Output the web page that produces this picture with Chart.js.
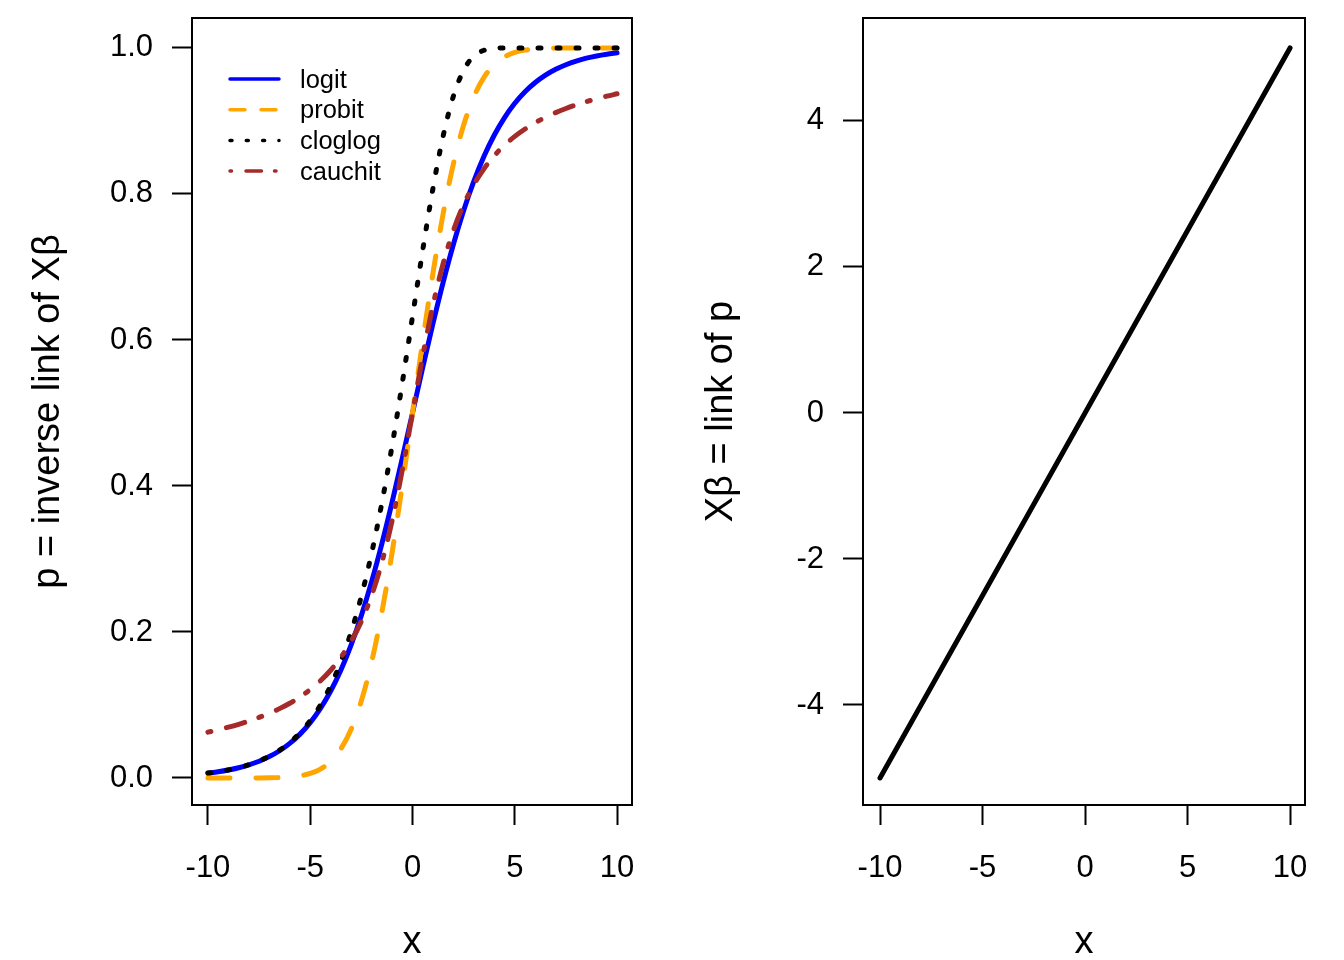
<!DOCTYPE html>
<html><head><meta charset="utf-8">
<script src="https://cdn.jsdelivr.net/npm/chart.js@4/dist/chart.umd.min.js"></script>
<style>
html,body{margin:0;padding:0;background:#fff;}
#wrap{position:relative;width:1344px;height:960px;background:#fff;}
canvas{position:absolute;top:0;}
</style></head><body>
<div id="wrap">
<canvas id="c1" width="672" height="960" style="left:0px"></canvas>
<canvas id="c2" width="672" height="960" style="left:672px"></canvas>
</div>
<script>
// ---- data ----
const xValues = [-10,-9.5,-9,-8.5,-8,-7.5,-7,-6.5,-6,-5.5,-5,-4.5,-4,-3.5,-3,-2.5,-2,-1.5,-1,-0.5,0,0.5,1,1.5,2,2.5,3,3.5,4,4.5,5,5.5,6,6.5,7,7.5,8,8.5,9,9.5,10];
const logitP = [0.00669,0.00858,0.01099,0.01406,0.01799,0.02298,0.02931,0.03734,0.04743,0.06008,0.07586,0.09535,0.11920,0.14805,0.18243,0.22270,0.26894,0.32082,0.37754,0.43782,0.5,0.56218,0.62246,0.67918,0.73106,0.77730,0.81757,0.85195,0.88080,0.90465,0.92414,0.93992,0.95257,0.96266,0.97069,0.97702,0.98201,0.98594,0.98901,0.99142,0.99331];
const probitP = [0.0000003,0.000001,0.0000034,0.0000107,0.0000317,0.0000884,0.000233,0.000577,0.00135,0.00298,0.00621,0.01222,0.02275,0.04006,0.06681,0.10565,0.15866,0.22663,0.30854,0.40129,0.5,0.59871,0.69146,0.77337,0.84134,0.89435,0.93319,0.95994,0.97725,0.98778,0.99379,0.99702,0.99865,0.99942,0.99977,0.99991,0.99997,0.99999,1.0,1.0,1.0];
const cloglogP = [0.00672,0.00862,0.01105,0.01416,0.01815,0.02324,0.02975,0.03803,0.04857,0.06193,0.07881,0.10004,0.12658,0.15951,0.19999,0.24914,0.30780,0.37646,0.45476,0.54105,0.63212,0.72304,0.80770,0.87961,0.93401,0.96952,0.98869,0.99683,0.99938,0.99992,0.999995,1,1,1,1,1,1,1,1,1,1];
const cauchitP = [0.06283,0.06605,0.06960,0.07356,0.07798,0.08295,0.08859,0.09502,0.10242,0.11102,0.12112,0.13312,0.14758,0.16525,0.18717,0.21478,0.25,0.29517,0.35242,0.42202,0.5,0.57798,0.64758,0.70483,0.75,0.78522,0.81283,0.83475,0.85242,0.86688,0.87888,0.88898,0.89758,0.90498,0.91141,0.91705,0.92202,0.92644,0.93040,0.93395,0.93717];
const seriesNames = ['logit','probit','cloglog','cauchit'];
const lineX = [-10,-5,0,5,10];
const lineEta = [-5,-2.5,0,2.5,5];
const xTicks = [-10,-5,0,5,10];
const pTicks = [0,0.2,0.4,0.6,0.8,1.0];
const etaTicks = [-4,-2,0,2,4];

// ---- styles ----
const FONT = '"Liberation Sans", Arial, Helvetica, sans-serif';
Chart.defaults.font.family = FONT;
Chart.defaults.font.size = 31;
Chart.defaults.color = '#000';

const seriesStyle = [
  {color:'#0000FF', dash:[], legendDash:[]},
  {color:'#FFA500', dash:[22,26], legendDash:[15,16]},
  {color:'#000000', dash:[3,16], legendDash:[2,14.3]},
  {color:'#A52A2A', dash:[3,16,19,15], legendDash:[1.5,14.5,15.5,13]}
];

const boxPlugin = {
  id:'rbox',
  afterDraw(chart){
    const a = chart.chartArea, ctx = chart.ctx;
    ctx.save();
    ctx.strokeStyle = '#000'; ctx.lineWidth = 2;
    ctx.strokeRect(a.left, a.top, a.right - a.left, a.bottom - a.top);
    ctx.restore();
  }
};

const legendPlugin = {
  id:'rlegend',
  afterDraw(chart, args, o){
    const ctx = chart.ctx;
    ctx.save();
    ctx.font = '25.5px ' + FONT;
    ctx.textBaseline = 'middle';
    ctx.textAlign = 'left';
    seriesNames.forEach((name, i) => {
      const y = o.y0 + i * o.dy;
      const st = seriesStyle[i];
      ctx.beginPath();
      ctx.strokeStyle = st.color;
      ctx.lineWidth = 3.5;
      ctx.lineCap = 'round';
      ctx.setLineDash(st.legendDash);
      ctx.moveTo(o.x0, y); ctx.lineTo(o.x1, y);
      ctx.stroke();
      ctx.setLineDash([]);
      ctx.fillStyle = '#000';
      ctx.fillText(name, o.tx, y + 1.5);
    });
    ctx.restore();
  }
};

function axisCfg(min, max, ticks, fmt, isX, size, title, titlePad){
  return {
    type:'linear', min:min, max:max,
    afterBuildTicks: s => { s.ticks = ticks.map(v => ({value:v})); },
    afterFit: s => {
      if (isX) { s.height = size; } else { s.width = size; }
      s.paddingLeft = 0; s.paddingRight = 0; s.paddingTop = 0; s.paddingBottom = 0;
    },
    grid:{display:true, drawOnChartArea:false, drawTicks:true, tickLength:20, tickColor:'#000', tickWidth:2, color:'#000'},
    border:{display:false},
    ticks:{color:'#000', font:{size:31, family:FONT}, padding: isX ? 25 : 19, maxRotation:0, minRotation:0, autoSkip:false, callback: v => fmt(v)},
    title:{display:true, text:title, color:'#000', font:{size:38, family:FONT}, padding:titlePad}
  };
}

const datasets1 = [logitP, probitP, cloglogP, cauchitP].map((arr, i) => ({
  label: seriesNames[i],
  data: xValues.map((x, j) => ({x:x, y:arr[j]})),
  borderColor: seriesStyle[i].color,
  borderWidth: 5,
  borderDash: seriesStyle[i].dash,
  borderCapStyle: 'round',
  borderJoinStyle: 'round',
  pointRadius: 0,
  fill: false,
  cubicInterpolationMode: 'monotone',
  order: 4 - i
}));

new Chart(document.getElementById('c1'), {
  type:'line',
  data:{datasets: datasets1},
  options:{
    responsive:false, animation:false, devicePixelRatio:1,
    layout:{padding:{left:0, top:18, right:40, bottom:0}},
    plugins:{legend:{display:false}, tooltip:{enabled:false},
      rlegend:{x0:230, x1:279, y0:79, dy:30.7, tx:300}},
    scales:{
      x: axisCfg(-10.78, 10.73, xTicks, v => String(v), true, 155, 'x', {top:0, bottom:-5}),
      y: axisCfg(-0.037, 1.041, pTicks, v => Number(v).toFixed(1), false, 192, 'p = inverse link of X\u03B2', {top:26, bottom:0})
    }
  },
  plugins:[boxPlugin, legendPlugin]
});

new Chart(document.getElementById('c2'), {
  type:'line',
  data:{datasets:[{
    label:'link',
    data: lineX.map((x, j) => ({x:x, y:lineEta[j]})),
    borderColor:'#000', borderWidth:5, borderCapStyle:'round', pointRadius:0, fill:false
  }]},
  options:{
    responsive:false, animation:false, devicePixelRatio:1,
    layout:{padding:{left:0, top:18, right:39, bottom:0}},
    plugins:{legend:{display:false}, tooltip:{enabled:false}},
    scales:{
      x: axisCfg(-10.83, 10.73, xTicks, v => String(v), true, 155, 'x', {top:0, bottom:-5}),
      y: axisCfg(-5.37, 5.41, etaTicks, v => String(v), false, 191, 'X\u03B2 = link of p', {top:27, bottom:0})
    }
  },
  plugins:[boxPlugin]
});
</script>
</body></html>
